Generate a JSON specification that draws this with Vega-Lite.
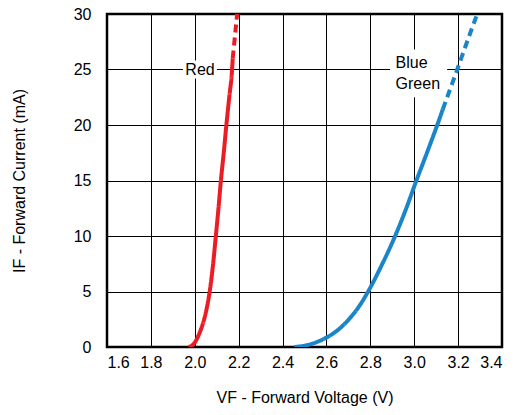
{
  "$schema": "https://vega.github.io/schema/vega-lite/v6.json",
  "width": 395,
  "height": 333,
  "autosize": {"type": "none"},
  "padding": {"left": 107, "top": 14, "right": 17, "bottom": 68},
  "background": "white",
  "config": {
    "font": "Liberation Sans",
    "view": {"stroke": "black", "strokeWidth": 2.5},
    "axis": {
      "grid": true,
      "gridColor": "black",
      "gridWidth": 1,
      "gridOpacity": 1,
      "domain": false,
      "ticks": false,
      "labelFont": "Liberation Sans",
      "labelFontSize": 16,
      "labelColor": "black",
      "titleFont": "Liberation Sans",
      "titleFontSize": 16,
      "titleFontWeight": "normal",
      "titleColor": "black"
    }
  },
  "datasets": {
    "curves": [
      {"v": 1.972, "i": 0, "led": "Red", "style": "solid"},
      {"v": 1.985, "i": 0.1, "led": "Red", "style": "solid"},
      {"v": 2.0, "i": 0.4, "led": "Red", "style": "solid"},
      {"v": 2.015, "i": 0.95, "led": "Red", "style": "solid"},
      {"v": 2.03, "i": 1.7, "led": "Red", "style": "solid"},
      {"v": 2.042, "i": 2.45, "led": "Red", "style": "solid"},
      {"v": 2.053, "i": 3.35, "led": "Red", "style": "solid"},
      {"v": 2.068, "i": 5, "led": "Red", "style": "solid"},
      {"v": 2.082, "i": 7.2, "led": "Red", "style": "solid"},
      {"v": 2.096, "i": 10, "led": "Red", "style": "solid"},
      {"v": 2.108, "i": 12.5, "led": "Red", "style": "solid"},
      {"v": 2.119, "i": 15, "led": "Red", "style": "solid"},
      {"v": 2.132, "i": 17.5, "led": "Red", "style": "solid"},
      {"v": 2.144, "i": 20, "led": "Red", "style": "solid"},
      {"v": 2.157, "i": 22.5, "led": "Red", "style": "solid"},
      {"v": 2.17, "i": 25, "led": "Red", "style": "solid"},
      {"v": 2.173, "i": 26, "led": "Red", "style": "solid"},
      {"v": 2.173, "i": 26, "led": "Red", "style": "dashed"},
      {"v": 2.183, "i": 28, "led": "Red", "style": "dashed"},
      {"v": 2.193, "i": 30, "led": "Red", "style": "dashed"},
      {"v": 2.454, "i": 0, "led": "Blue Green", "style": "solid"},
      {"v": 2.5, "i": 0.12, "led": "Blue Green", "style": "solid"},
      {"v": 2.55, "i": 0.4, "led": "Blue Green", "style": "solid"},
      {"v": 2.6, "i": 0.85, "led": "Blue Green", "style": "solid"},
      {"v": 2.65, "i": 1.5, "led": "Blue Green", "style": "solid"},
      {"v": 2.7, "i": 2.45, "led": "Blue Green", "style": "solid"},
      {"v": 2.75, "i": 3.7, "led": "Blue Green", "style": "solid"},
      {"v": 2.79, "i": 5, "led": "Blue Green", "style": "solid"},
      {"v": 2.85, "i": 7.3, "led": "Blue Green", "style": "solid"},
      {"v": 2.913, "i": 10, "led": "Blue Green", "style": "solid"},
      {"v": 2.96, "i": 12.3, "led": "Blue Green", "style": "solid"},
      {"v": 3.01, "i": 15, "led": "Blue Green", "style": "solid"},
      {"v": 3.06, "i": 17.6, "led": "Blue Green", "style": "solid"},
      {"v": 3.105, "i": 20, "led": "Blue Green", "style": "solid"},
      {"v": 3.13, "i": 21.4, "led": "Blue Green", "style": "solid"},
      {"v": 3.13, "i": 21.4, "led": "Blue Green", "style": "dashed"},
      {"v": 3.163, "i": 23.2, "led": "Blue Green", "style": "dashed"},
      {"v": 3.196, "i": 25, "led": "Blue Green", "style": "dashed"},
      {"v": 3.241, "i": 27.5, "led": "Blue Green", "style": "dashed"},
      {"v": 3.287, "i": 30, "led": "Blue Green", "style": "dashed"}
    ],
    "boxes": [
      {"x1": 1.946, "x2": 2.101, "y1": 24.2, "y2": 25.8},
      {"x1": 2.89, "x2": 3.15, "y1": 22.5, "y2": 26.8}
    ],
    "labels": [
      {"v": 2.024, "i": 25, "label": "Red", "anchor": "center"},
      {"v": 2.915, "i": 25.6, "label": "Blue\nGreen", "anchor": "left"}
    ]
  },
  "encoding": {},
  "layer": [
    {
      "data": {"name": "boxes"},
      "mark": {"type": "rect", "fill": "white", "stroke": null},
      "encoding": {
        "x": {"field": "x1", "type": "quantitative", "scale": {"domain": [1.6, 3.4], "nice": false}},
        "x2": {"field": "x2"},
        "y": {"field": "y1", "type": "quantitative", "scale": {"domain": [0, 30], "nice": false}},
        "y2": {"field": "y2"}
      }
    },
    {
      "data": {"name": "curves"},
      "mark": {"type": "line", "strokeWidth": 4, "interpolate": "monotone", "strokeCap": "butt", "clip": true},
      "encoding": {
        "x": {
          "field": "v", "type": "quantitative",
          "scale": {"domain": [1.6, 3.4], "nice": false},
          "axis": {"values": [1.6, 1.8, 2.0, 2.2, 2.4, 2.6, 2.8, 3.0, 3.2, 3.4], "format": ".1f", "labelPadding": 7, "titlePadding": 19},
          "title": "VF - Forward Voltage (V)"
        },
        "y": {
          "field": "i", "type": "quantitative",
          "scale": {"domain": [0, 30], "nice": false},
          "axis": {"values": [0, 5, 10, 15, 20, 25, 30], "labelPadding": 16, "titlePadding": 46},
          "title": "IF - Forward Current (mA)"
        },
        "color": {
          "field": "led", "type": "nominal",
          "scale": {"domain": ["Red", "Blue Green"], "range": ["#ec1c24", "#1b85c9"]},
          "legend": null
        },
        "strokeDash": {
          "field": "style", "type": "nominal",
          "scale": {"domain": ["solid", "dashed"], "range": [[1, 0], [8, 5]]},
          "legend": null
        }
      }
    },
    {
      "data": {"name": "labels"},
      "transform": [{"filter": "datum.anchor == 'center'"}],
      "mark": {"type": "text", "fontSize": 16, "font": "Liberation Sans", "color": "black", "baseline": "middle", "align": "center"},
      "encoding": {
        "x": {"field": "v", "type": "quantitative"},
        "y": {"field": "i", "type": "quantitative"},
        "text": {"field": "label"}
      }
    },
    {
      "data": {"name": "labels"},
      "transform": [{"filter": "datum.anchor == 'left'"}],
      "mark": {"type": "text", "fontSize": 16, "font": "Liberation Sans", "color": "black", "lineBreak": "\n", "lineHeight": 21, "baseline": "middle", "align": "left"},
      "encoding": {
        "x": {"field": "v", "type": "quantitative"},
        "y": {"field": "i", "type": "quantitative"},
        "text": {"field": "label"}
      }
    }
  ]
}
